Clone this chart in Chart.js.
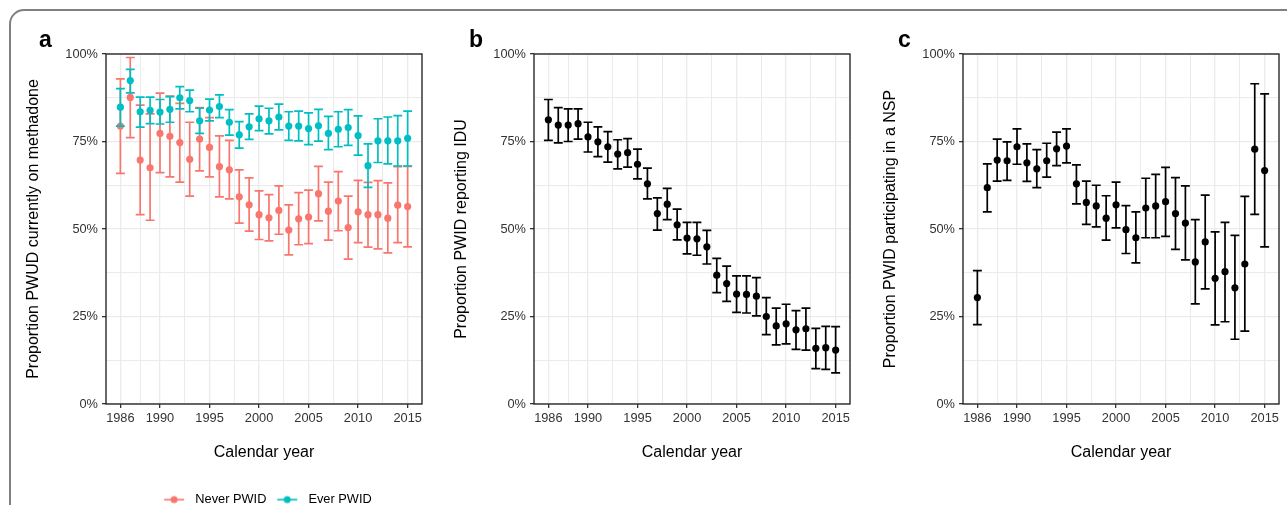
<!DOCTYPE html>
<html><head><meta charset="utf-8">
<script src="https://cdn.jsdelivr.net/npm/chart.js@4.4.1/dist/chart.umd.min.js"></script>
<style>
html,body{margin:0;padding:0;width:1287px;height:505px;overflow:hidden;background:#fff;}
#frame{position:absolute;left:9px;top:9px;width:1320px;height:620px;border:2px solid #808080;border-radius:15px;}
canvas{position:absolute;top:0;}
.lab{position:absolute;font:bold 23px 'Liberation Sans',Arial,sans-serif;line-height:23px;color:#000;}
</style></head><body>
<div id="frame"></div>
<canvas id="ca" width="430" height="516" style="left:0px"></canvas>
<canvas id="cb" width="430" height="516" style="left:428px"></canvas>
<canvas id="cc" width="430" height="516" style="left:857px"></canvas>
<div class="lab" style="left:39px;top:28px">a</div>
<div class="lab" style="left:469px;top:28px">b</div>
<div class="lab" style="left:898px;top:28px">c</div>
<script>
// ---------- data ----------
const years = [1986,1987,1988,1989,1990,1991,1992,1993,1994,1995,1996,1997,1998,1999,2000,2001,2002,2003,2004,2005,2006,2007,2008,2009,2010,2011,2012,2013,2014,2015];
const xTickYears = [1986,1990,1995,2000,2005,2010,2015];
const xMinorYears = [1988,1992.5,1997.5,2002.5,2007.5,2012.5];
const yTickPct = [0,25,50,75,100];
const yTickLabels = ['0%','25%','50%','75%','100%'];
const yMinorPct = [12.5,37.5,62.5,87.5];
const seriesNames = ['Never PWID','Ever PWID'];

// panel a: currently on methadone (%)
const neverMid = [79.4,87.6,69.7,67.5,77.3,76.5,74.7,69.9,75.7,73.3,67.8,66.9,59.2,56.9,54.1,53.2,55.3,49.7,52.9,53.4,60.1,55.1,58.0,50.4,54.9,54.1,54.1,53.1,56.8,56.4];
const neverLo  = [65.9,76.1,54.1,52.5,66.1,64.9,63.4,59.4,66.6,64.9,59.2,58.6,51.7,49.4,47.0,46.6,48.5,42.6,45.5,45.8,52.3,46.8,49.5,41.4,46.1,44.8,44.3,43.2,46.1,44.9];
const neverHi  = [92.9,99.0,85.4,82.9,88.8,88.0,85.9,80.5,84.7,81.8,76.6,75.3,66.9,64.6,60.9,59.8,62.3,56.9,60.4,61.1,67.9,63.4,66.4,59.4,63.9,63.3,63.8,63.2,67.8,67.9];
const everMid  = [84.8,92.4,83.5,83.9,83.4,84.2,87.5,86.7,80.9,84.0,85.0,80.5,76.9,79.2,81.5,80.9,82.0,79.4,79.4,78.7,79.5,77.3,78.5,79.0,76.7,68.1,75.2,75.2,75.2,75.9];
const everLo   = [79.4,88.9,79.1,80.1,80.0,80.5,84.3,83.5,77.3,80.9,81.8,76.8,73.1,75.6,78.1,77.2,78.3,75.3,75.2,74.1,75.1,72.7,73.5,73.9,71.1,61.9,69.0,68.6,68.0,68.0];
const everHi   = [90.1,95.6,87.7,87.7,87.0,87.8,90.7,89.7,84.5,87.1,88.3,84.1,80.7,82.9,85.1,84.5,85.7,83.5,83.7,83.2,84.2,82.2,83.5,84.1,82.3,74.3,81.5,82.0,82.4,83.7];

// panel b: PWID reporting IDU (%)
const iduMid = [81.2,79.7,79.7,80.1,76.3,74.9,73.5,71.4,71.8,68.5,62.9,54.4,57.1,51.2,47.4,47.2,44.9,36.8,34.4,31.4,31.3,30.8,25.0,22.3,22.9,21.2,21.5,15.9,16.1,15.4];
const iduLo  = [75.3,74.6,75.0,75.7,72.0,70.7,69.1,67.2,67.7,64.3,58.6,49.7,52.7,46.9,42.9,42.5,40.0,31.8,29.3,26.2,26.0,25.2,19.8,16.9,17.2,15.6,15.4,10.1,9.9,8.9];
const iduHi  = [87.0,84.7,84.3,84.3,80.5,79.2,77.8,75.5,75.8,72.8,67.4,58.9,61.6,55.7,51.9,51.9,49.6,41.6,39.4,36.6,36.6,36.1,30.4,27.4,28.5,26.7,27.4,21.6,22.2,22.1];

// panel c: PWID participating in a NSP (%)
const nspMid = [30.4,61.8,69.7,69.5,73.5,68.9,67.2,69.5,72.9,73.7,62.9,57.6,56.6,53.1,56.9,49.8,47.5,56.0,56.6,57.8,54.4,51.7,40.6,46.3,35.9,37.8,33.2,40.0,72.8,66.7];
const nspLo  = [22.7,54.9,63.7,63.9,68.5,63.6,61.8,64.8,68.1,68.9,57.2,51.3,50.6,46.8,50.3,43.0,40.3,47.5,47.5,47.9,44.2,41.2,28.6,32.9,22.6,23.5,18.5,20.8,54.2,44.9];
const nspHi  = [38.1,68.6,75.7,74.9,78.6,74.3,72.7,74.5,77.7,78.6,68.3,63.7,62.5,59.5,63.4,56.7,54.9,64.5,65.6,67.6,64.7,62.3,52.7,59.7,49.2,51.9,48.2,59.3,91.5,88.6];

// ---------- styling ----------
const FONT = "'Liberation Sans', Arial, sans-serif";
Chart.defaults.font.family = FONT;
const RED = '#F8766D', TEAL = '#00BFC4', BLACK = '#000000';
const LEGEND_H = 25.8, X_H = 86.2;

const errorBarPlugin = {
  id: 'errorBars',
  beforeDatasetDraw(chart, args) {
    const ds = chart.data.datasets[args.index];
    if (!ds.lo) return;
    const xs = chart.scales.x, ys = chart.scales.y, ctx = chart.ctx;
    ctx.save();
    ctx.strokeStyle = ds.barColor;
    ctx.lineWidth = 1.7;
    ds.data.forEach((p, i) => {
      const x = xs.getPixelForValue(p.x);
      const half = xs.getPixelForValue(p.x + 0.45) - x;
      const y1 = ys.getPixelForValue(ds.lo[i]);
      const y2 = ys.getPixelForValue(ds.hi[i]);
      ctx.beginPath();
      ctx.moveTo(x, y1); ctx.lineTo(x, y2);
      ctx.moveTo(x - half, y1); ctx.lineTo(x + half, y1);
      ctx.moveTo(x - half, y2); ctx.lineTo(x + half, y2);
      ctx.stroke();
    });
    ctx.restore();
  }
};
const borderPlugin = {
  id: 'panelBorder',
  afterDraw(chart) {
    const a = chart.chartArea, ctx = chart.ctx;
    ctx.save();
    ctx.strokeStyle = '#1a1a1a';
    ctx.lineWidth = 1.3;
    ctx.strokeRect(a.left, a.top, a.right - a.left, a.bottom - a.top);
    ctx.restore();
  }
};

function keyGlyph(color) {
  const c = document.createElement('canvas');
  c.width = 33; c.height = 10;
  const g = c.getContext('2d');
  g.strokeStyle = color; g.lineWidth = 1.6;
  g.beginPath(); g.moveTo(8, 5); g.lineTo(28, 5); g.stroke();
  g.fillStyle = color;
  g.beginPath(); g.arc(18, 5, 3.5, 0, Math.PI * 2); g.fill();
  return c;
}

function series(label, mid, lo, hi, color, order) {
  return {
    label, order,
    data: years.map((y, i) => ({x: y, y: mid[i]})),
    lo, hi, barColor: color,
    pointRadius: 3.6, pointHoverRadius: 3.6,
    pointBackgroundColor: color, pointBorderWidth: 0,
    backgroundColor: color, borderColor: color
  };
}

function makeChart(id, datasets, yTitle, legendGlyphs) {
  const withLegend = !!legendGlyphs;
  return new Chart(document.getElementById(id), {
    type: 'scatter',
    data: {datasets},
    options: {
      responsive: false, animation: false, devicePixelRatio: 1,
      layout: {padding: {left: 0, right: 8, top: 54, bottom: withLegend ? 0 : LEGEND_H}},
      plugins: {
        tooltip: {enabled: false},
        legend: withLegend ? {
          display: true, position: 'bottom', fullSize: false, align: 'center',
          labels: {
            usePointStyle: true, pointStyleWidth: 32.6, padding: 3,
            color: '#000', font: {size: 12.8},
            generateLabels: () => seriesNames.map((n, i) => ({
              text: n, pointStyle: legendGlyphs[i], datasetIndex: i,
              fillStyle: 'transparent', strokeStyle: 'transparent', lineWidth: 0, hidden: false
            }))
          }
        } : {display: false}
      },
      scales: {
        x: {
          type: 'linear', min: 1984.55, max: 2016.45,
          afterBuildTicks: s => { s.ticks = xTickYears.concat(xMinorYears).sort((a,b)=>a-b).map(v => ({value: v})); },
          afterFit: s => { s.height = X_H; },
          border: {display: false},
          grid: {
            color: '#EBEBEB',
            lineWidth: c => xTickYears.includes(c.tick.value) ? 1.3 : 1,
            tickLength: 4,
            tickColor: c => xTickYears.includes(c.tick.value) ? '#333' : 'rgba(0,0,0,0)'
          },
          ticks: {
            autoSkip: false, maxRotation: 0, minRotation: 0, padding: 3,
            color: '#333', font: {size: 12.8},
            callback: v => xTickYears.includes(v) ? String(v) : ''
          },
          title: {display: true, text: 'Calendar year', color: '#000', font: {size: 16}, padding: {top: 0, bottom: 28.1}}
        },
        y: {
          min: 0, max: 100,
          afterBuildTicks: s => { s.ticks = yTickPct.concat(yMinorPct).sort((a,b)=>a-b).map(v => ({value: v})); },
          afterFit: s => { s.width = 106; },
          border: {display: false},
          grid: {
            color: '#EBEBEB',
            lineWidth: c => yTickPct.includes(c.tick.value) ? 1.3 : 1,
            tickLength: 4,
            tickColor: c => yTickPct.includes(c.tick.value) ? '#333' : 'rgba(0,0,0,0)'
          },
          ticks: {
            autoSkip: false, padding: 4, color: '#333', font: {size: 12.8},
            callback: v => { const k = yTickPct.indexOf(v); return k >= 0 ? yTickLabels[k] : ''; }
          },
          title: {display: true, text: yTitle, color: '#000', font: {size: 16}, padding: {top: 24.4, bottom: 0}}
        }
      }
    },
    plugins: [errorBarPlugin, borderPlugin]
  });
}

makeChart('ca', [
  series(seriesNames[0], neverMid, neverLo, neverHi, RED, 2),
  series(seriesNames[1], everMid, everLo, everHi, TEAL, 1)
], 'Proportion PWUD currently on methadone', [keyGlyph(RED), keyGlyph(TEAL)]);

makeChart('cb', [series('IDU', iduMid, iduLo, iduHi, BLACK, 1)], 'Proportion PWID reporting IDU', null);
makeChart('cc', [series('NSP', nspMid, nspLo, nspHi, BLACK, 1)], 'Proportion PWID participating in a NSP', null);
</script>
</body></html>
